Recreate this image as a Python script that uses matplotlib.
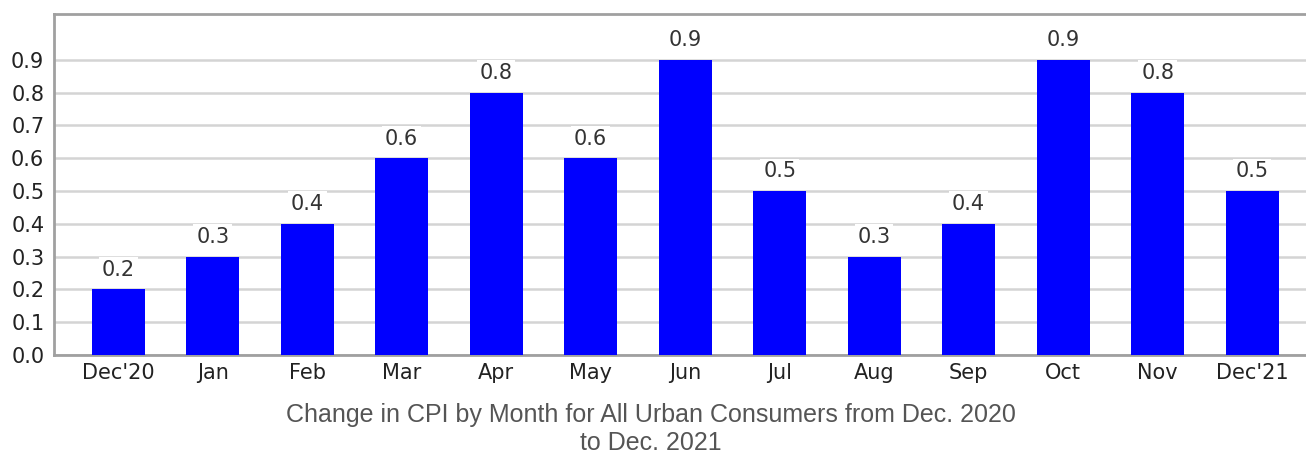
import matplotlib
matplotlib.use("Agg")
import matplotlib.pyplot as plt

months = ["Dec'20", "Jan", "Feb", "Mar", "Apr", "May", "Jun", "Jul", "Aug", "Sep", "Oct", "Nov", "Dec'21"]
values = [0.2, 0.3, 0.4, 0.6, 0.8, 0.6, 0.9, 0.5, 0.3, 0.4, 0.9, 0.8, 0.5]
yticks = [0.0, 0.1, 0.2, 0.3, 0.4, 0.5, 0.6, 0.7, 0.8, 0.9]
title_lines = ["Change in CPI by Month for All Urban Consumers from Dec. 2020", "to Dec. 2021"]

W, H = 1306, 457
fig = plt.figure(figsize=(W/100, H/100), dpi=100)
ax = fig.add_axes([54/W, 1-355/H, (W-54)/W, (355-14)/H])

x = list(range(len(months)))
ax.bar(x, values, width=0.56, color="#0000FF", zorder=3)
for xi, v in zip(x, values):
    ax.text(xi, v + 0.06, f"{v:.1f}", ha="center", va="center", fontsize=15,
            color="#333333", family="DejaVu Sans", zorder=4,
            bbox=dict(facecolor="white", edgecolor="none", pad=2))

ax.set_xlim(-0.68, 12.57)
ax.set_ylim(0, 1.04)
ax.set_yticks(yticks)
ax.set_yticklabels([f"{t:.1f}" for t in yticks], fontsize=15, color="#222222", family="DejaVu Sans")
ax.set_xticks(x)
ax.set_xticklabels(months, fontsize=15, color="#222222", family="DejaVu Sans")
ax.tick_params(axis="y", length=0, pad=7)
ax.tick_params(axis="x", length=0, pad=6)
ax.grid(axis="y", color="#d4d4d4", linewidth=1.8, zorder=0)
for s in ["left", "bottom", "top"]:
    ax.spines[s].set_color("#a0a0a0")
    ax.spines[s].set_linewidth(2)
ax.spines["right"].set_visible(False)

for line, yb in zip(title_lines, [422, 450]):
    fig.text(651/W, 1 - yb/H, line, ha="center", va="baseline",
             fontsize=18, color="#555555", family="Liberation Sans")

fig.savefig("out.png", dpi=100)
